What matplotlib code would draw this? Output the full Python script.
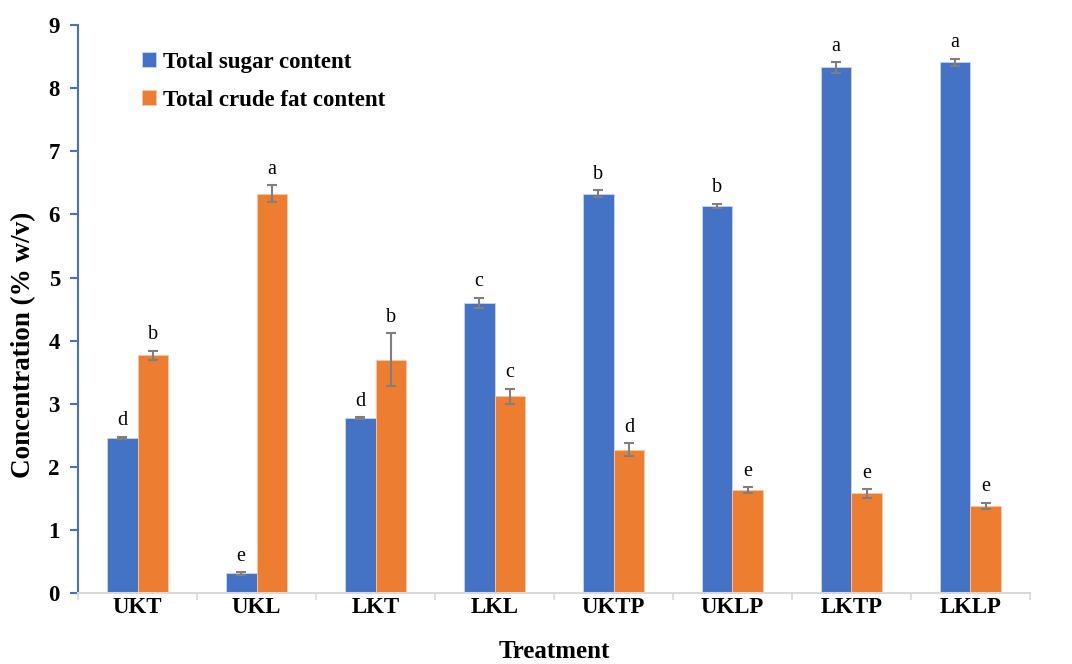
import matplotlib
matplotlib.use("Agg")
import matplotlib.pyplot as plt
import numpy as np

categories = ["UKT", "UKL", "LKT", "LKL", "UKTP", "UKLP", "LKTP", "LKLP"]
sugar = [2.46, 0.31, 2.77, 4.60, 6.33, 6.14, 8.33, 8.41]
sugar_err = [0.02, 0.02, 0.02, 0.08, 0.06, 0.03, 0.09, 0.06]
sugar_letters = ["d", "e", "d", "c", "b", "b", "a", "a"]
fat = [3.77, 6.33, 3.70, 3.12, 2.27, 1.63, 1.58, 1.38]
fat_err = [0.07, 0.14, 0.42, 0.12, 0.10, 0.05, 0.07, 0.05]
fat_letters = ["b", "a", "b", "c", "d", "e", "e", "e"]
yticks = [0, 1, 2, 3, 4, 5, 6, 7, 8, 9]

plt.rcParams['font.family'] = ['Liberation Serif', 'DejaVu Serif']

fig = plt.figure(figsize=(10.72, 6.64), dpi=100)
ax = fig.add_axes([0.0728, 0.107, 0.888, 0.855])

blue = "#4472C4"
orange = "#ED7D31"
x = np.arange(len(categories))
w = 0.26
ekw = dict(ecolor="#7f7f7f", elinewidth=1.5, capsize=3.5, capthick=1.5)
ax.bar(x - w/2, sugar, w, color=blue, yerr=sugar_err, error_kw=ekw,
       label="Total sugar content", edgecolor="#c9d6ee", linewidth=0.6)
ax.bar(x + w/2, fat, w, color=orange, yerr=fat_err, error_kw=ekw,
       label="Total crude fat content", edgecolor="#f7c7a5", linewidth=0.6)

for i in range(len(categories)):
    ax.text(x[i] - w/2, sugar[i] + sugar_err[i] + 0.1, sugar_letters[i],
            ha="center", va="bottom", fontsize=14.5)
    ax.text(x[i] + w/2, fat[i] + fat_err[i] + 0.1, fat_letters[i],
            ha="center", va="bottom", fontsize=14.5)

ax.set_xlim(-0.5, len(categories) - 0.5)
ax.set_ylim(0, 9)
ax.set_yticks(yticks)
ax.set_yticklabels([str(t) for t in yticks], fontsize=16.5, fontweight="bold")
ax.set_xticks(x)
ax.set_xticklabels(categories, fontsize=16.5, fontweight="bold")
ax.set_xticks(np.arange(len(categories) + 1) - 0.5, minor=True)
ax.tick_params(axis="x", which="major", length=0, pad=3)
ax.tick_params(axis="x", which="minor", length=5, color="#d9d9d9", width=1.2)
ax.tick_params(axis="y", length=6, color=blue, width=1.5, pad=7)

for s in ["top", "right"]:
    ax.spines[s].set_visible(False)
ax.spines["left"].set_color(blue)
ax.spines["left"].set_linewidth(1.5)
ax.spines["bottom"].set_color("#d9d9d9")
ax.spines["bottom"].set_linewidth(1.5)

ax.set_ylabel("Concentration (% w/v)", fontsize=19.5, fontweight="bold")
ax.yaxis.set_label_coords(-0.044, 0.437)
ax.set_xlabel("Treatment", fontsize=18, fontweight="bold", labelpad=16)

ax.legend(loc="upper left", bbox_to_anchor=(0.046, 0.99), frameon=False,
          prop=dict(size=16.5, weight="bold"), handlelength=0.6, handleheight=0.6,
          handletextpad=0.3, labelspacing=0.75)

fig.savefig("out.png", dpi=100)
